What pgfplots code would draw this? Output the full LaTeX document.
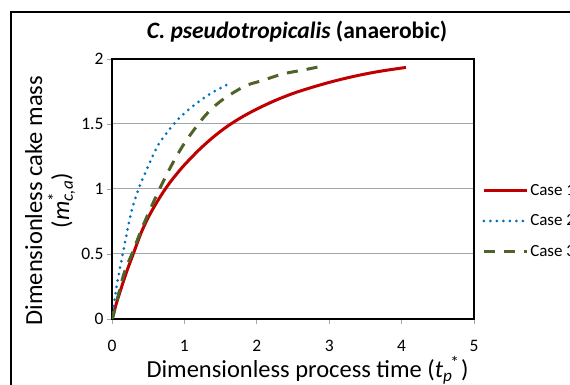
\documentclass[border=0pt]{standalone}
\usepackage{fontspec}
\setmainfont{Carlito}
\usepackage{pgfplots}
\pgfplotsset{compat=1.18}
\definecolor{c1}{RGB}{192,0,0}
\definecolor{c2}{RGB}{0,112,192}
\definecolor{c3}{RGB}{79,98,40}
\begin{document}
\begin{tikzpicture}[x=1pt,y=1pt]
\useasboundingbox (0,0) rectangle (570,385);
\begin{scope}
\clip (0,0) rectangle (570,385);
\draw[line width=2pt] (11,-20) -- (11,373) -- (600,373);
\begin{axis}[
  at={(112pt,66pt)}, anchor=south west,
  scale only axis, width=362pt, height=260pt,
  xmin=0, xmax=5, ymin=0, ymax=2,
  xtick={0,1,2,3,4,5}, ytick={0,0.5,1,1.5,2},
  tick align=outside, xtick pos=bottom, ytick pos=left,
  major tick length=5pt,
  tick style={color=gray!70, line width=0.8pt},
  ymajorgrids, grid style={color=gray!70, line width=1pt},
  axis line style={line width=2.5pt},
  /pgf/number format/assume math mode=true,
  ticklabel style={font=\fontsize{17.5}{20}\selectfont},
  xticklabel style={yshift=-13pt},
  label style={font=\fontsize{24.5}{27}\selectfont},
  xlabel={Dimensionless process time (\textit{t}\textsubscript{\textit{p}}\kern-2pt\textsuperscript{*}\kern1.5pt)},
  xlabel style={at={(axis description cs:0.54,-0.196)}, anchor=center},
  ylabel={Dimensionless cake mass\\(\textit{m}\rlap{\textsuperscript{*}}\textsubscript{\textit{c,a}})},
  ylabel style={align=center, at={(axis description cs:-0.171,0.455)}, anchor=center},
  title={\textbf{\textit{C. pseudotropicalis}} \textbf{(anaerobic)}},
  title style={at={(axis description cs:0.511,1.081)}, anchor=center, font=\fontsize{23.5}{27}\selectfont},
  legend style={draw=none, fill=none, at={(axis description cs:1.014,0.377)}, anchor=west,
    font=\fontsize{17}{20}\selectfont, row sep=14pt},
  legend cell align=left,
  legend image code/.code={\draw[#1] (0pt,0pt) -- (43pt,0pt);},
]
\addplot[c1, line width=3pt, smooth] coordinates {
(0,0) (0.05,0.1) (0.1,0.19) (0.2,0.36) (0.3,0.51) (0.4,0.66) (0.5,0.78) (0.6,0.88)
(0.7,0.97) (0.8,1.05) (0.9,1.12) (1.0,1.185) (1.2,1.30) (1.4,1.40) (1.6,1.485)
(1.8,1.555) (2.0,1.615) (2.25,1.68) (2.5,1.735) (2.75,1.78) (3.0,1.82)
(3.25,1.855) (3.5,1.885) (3.75,1.91) (4.06,1.935)};
\addlegendentry{Case 1}
\addplot[c2, line width=3pt, line cap=round, dash pattern=on 0pt off 6.5pt, smooth] coordinates {
(0,0) (0.02,0.08) (0.06,0.24) (0.11,0.39) (0.18,0.59) (0.27,0.83) (0.36,0.99)
(0.48,1.15) (0.64,1.34) (0.87,1.51) (1.10,1.63) (1.38,1.74) (1.65,1.82)};
\addlegendentry{Case 2}
\addplot[c3, line width=3pt, dash pattern=on 11pt off 9pt, smooth] coordinates {
(0,0) (0.02,0.03) (0.16,0.34) (0.29,0.52) (0.43,0.72) (0.64,0.98) (0.82,1.18)
(1.01,1.36) (1.28,1.56) (1.51,1.68) (1.83,1.79) (2.05,1.83) (2.36,1.885) (2.64,1.915) (2.86,1.94)};
\addlegendentry{Case 3}
\end{axis}
\end{scope}
\end{tikzpicture}
\end{document}
